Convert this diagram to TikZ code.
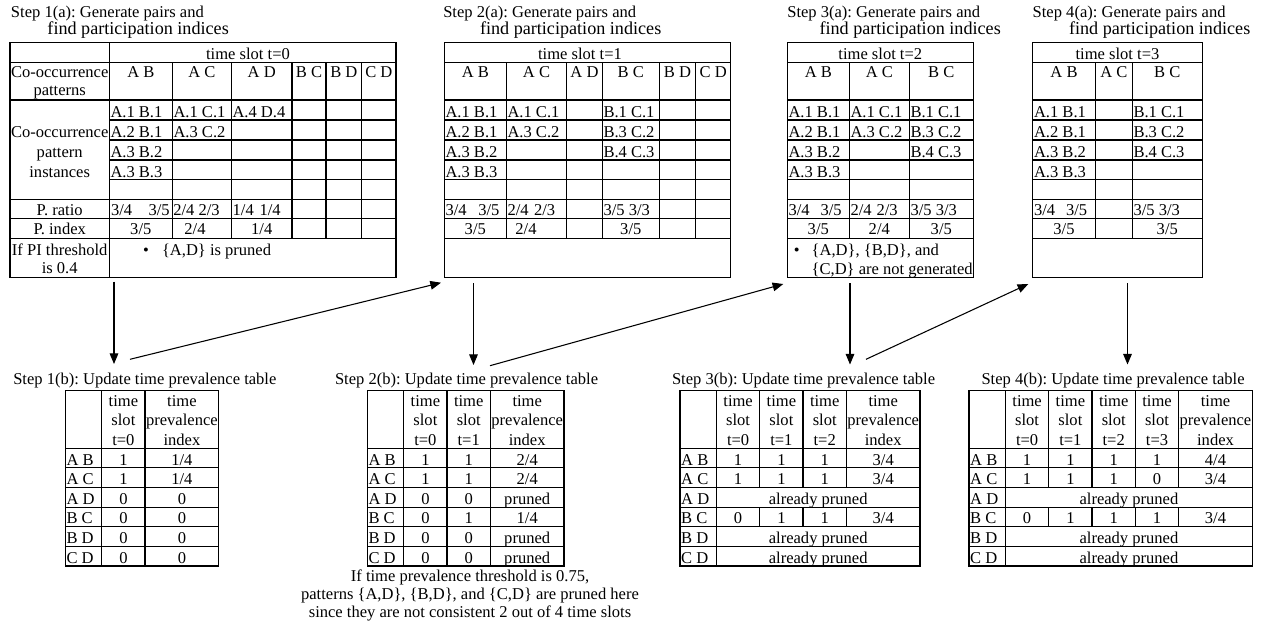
\documentclass[tikz,border=0pt]{standalone}
\usepackage{fontspec}
\setmainfont{Liberation Serif}
\usetikzlibrary{arrows.meta}
\tikzset{
  rule/.style={line width=0.8pt},
  tx/.style={anchor=base, inner sep=0pt, outer sep=0pt, font=\fontsize{12.4}{14.5}\selectfont\frenchspacing},
  txl/.style={tx, anchor=base west},
  sub/.style={txl, font=\fontsize{13.6}{15}\selectfont\frenchspacing},
  flow/.style={line width=0.8pt, -{Triangle[length=8pt,width=6.5pt]}},
}
% three-line column heads of the prevalence tables
\newcommand\slothead[3]{%
  \node[tx] (#1a) at (#2,406.5) {time};
  \node[tx] (#1b) at (#2,425.8) {slot};
  \node[tx] (#1c) at (#2,445) {#3};}
\newcommand\indexhead[2]{%
  \node[tx] (#1a) at (#2,406.5) {time};
  \node[tx] (#1b) at (#2,425.8) {prevalence};
  \node[tx] (#1c) at (#2,445) {index};}
\begin{document}
\begin{tikzpicture}[x=0.75pt,y=-0.75pt]
\useasboundingbox (0,0) rectangle (1261,625);

% ===================== Step 1(a) =====================
\node[txl] (s1a) at (11,17.3) {Step 1(a): Generate pairs and};
\node[sub] (s1a2) at (47.5,34.5) {find participation indices};
\draw[rule] (10,42.7) rectangle (396,277.5);
\foreach \y in {62.7,100,199.3,218.8,238.7} \draw[rule] (10,\y) -- (396,\y);
\foreach \y in {120,140,160,179.6} \draw[rule] (109.3,\y) -- (396,\y);
\draw[rule] (109.3,42.7) -- (109.3,277.5);
\foreach \x in {172.3,231.3,292,326,361.7} \draw[rule] (\x,62.7) -- (\x,238.7);
\node[tx] (t1slot) at (248,59) {time slot t=0};
\node[tx] (t1p1) at (59.7,77.5) {Co-occurrence};
\node[tx] (t1p2) at (59.7,95.5) {patterns};
\foreach \x/\t [count=\i] in {140.8/A B,201.8/A C,261.7/A D,309/B C,343.8/B D,378.8/C D}
  \node[tx] (t1h\i) at (\x,77.5) {\t};
\node[tx] (t1i1) at (59.7,137) {Co-occurrence};
\node[tx] (t1i2) at (59.7,157) {pattern};
\node[tx] (t1i3) at (59.7,177) {instances};
\foreach \t [count=\i] in {A.1 B.1,A.2 B.1,A.3 B.2,A.3 B.3}
  \node[txl] (t1ab\i) at (110.5,97+20*\i) {\t};
\foreach \t [count=\i] in {A.1 C.1,A.3 C.2}
  \node[txl] (t1ac\i) at (173.5,97+20*\i) {\t};
\node[txl] (t1ad1) at (232.5,117) {A.4 D.4};
\node[tx] (t1ratio) at (59.7,215) {P. ratio};
\foreach \x [count=\i] in {111,148.5,173.3,198.5,232.7,259.5}
  \node[txl] (t1r\i) at (\x,215) {\ifcase\i\or 3/4\or 3/5\or 2/4\or 2/3\or 1/4\or 1/4\fi};
\node[tx] (t1index) at (59.7,234.8) {P. index};
\node[tx] (t1x1) at (140.8,234.8) {3/5};
\node[tx] (t1x2) at (195,234.8) {2/4};
\node[tx] (t1x3) at (261.7,234.8) {1/4};
\node[tx] (t1th1) at (59.7,255.5) {If PI threshold};
\node[tx] (t1th2) at (59.7,273.5) {is 0.4};
\node[tx] (t1bul) at (146,255.5) {\textbullet};
\node[txl] (t1note) at (162,255.5) {\{A,D\} is pruned};

% ===================== Step 2(a) =====================
\node[txl] (s2a) at (443.3,17.3) {Step 2(a): Generate pairs and};
\node[sub] (s2a2) at (480,34.5) {find participation indices};
\draw[rule] (444.3,42.7) rectangle (730.7,277.5);
\foreach \y in {62.7,100,120,140,160,179.6,199.3,218.8,238.7} \draw[rule] (444.3,\y) -- (730.7,\y);
\foreach \x in {506.3,566.7,602.3,659.3,695.7} \draw[rule] (\x,62.7) -- (\x,238.7);
\node[tx] (t2slot) at (580,59) {time slot t=1};
\foreach \x/\t [count=\i] in {475.3/A B,536.5/A C,584.5/A D,630.8/B C,677.5/B D,713.2/C D}
  \node[tx] (t2h\i) at (\x,77.5) {\t};
\foreach \t [count=\i] in {A.1 B.1,A.2 B.1,A.3 B.2,A.3 B.3}
  \node[txl] (t2ab\i) at (445.5,97+20*\i) {\t};
\foreach \t [count=\i] in {A.1 C.1,A.3 C.2}
  \node[txl] (t2ac\i) at (507.5,97+20*\i) {\t};
\foreach \t [count=\i] in {B.1 C.1,B.3 C.2,B.4 C.3}
  \node[txl] (t2bc\i) at (603.5,97+20*\i) {\t};
\node[txl] (t2r1) at (445.5,215) {3/4};
\node[txl] (t2r2) at (478.3,215) {3/5};
\node[txl] (t2r3) at (507.5,215) {2/4};
\node[txl] (t2r4) at (534,215) {2/3};
\node[txl] (t2r5) at (603.5,215) {3/5 3/3};
\node[tx] (t2x1) at (475.3,234.8) {3/5};
\node[tx] (t2x2) at (526,234.8) {2/4};
\node[tx] (t2x3) at (630.8,234.8) {3/5};

% ===================== Step 3(a) =====================
\node[txl] (s3a) at (787.3,17.3) {Step 3(a): Generate pairs and};
\node[sub] (s3a2) at (819.5,34.5) {find participation indices};
\draw[rule] (787.3,42.7) rectangle (973.3,277.5);
\foreach \y in {62.7,100,120,140,160,179.6,199.3,218.8,238.7} \draw[rule] (787.3,\y) -- (973.3,\y);
\foreach \x in {849.3,909.3} \draw[rule] (\x,62.7) -- (\x,238.7);
\node[tx] (t3slot) at (880.3,59) {time slot t=2};
\foreach \x/\t [count=\i] in {818.3/A B,879.3/A C,941.3/B C}
  \node[tx] (t3h\i) at (\x,77.5) {\t};
\foreach \t [count=\i] in {A.1 B.1,A.2 B.1,A.3 B.2,A.3 B.3}
  \node[txl] (t3ab\i) at (788.5,97+20*\i) {\t};
\foreach \t [count=\i] in {A.1 C.1,A.3 C.2}
  \node[txl] (t3ac\i) at (850.5,97+20*\i) {\t};
\foreach \t [count=\i] in {B.1 C.1,B.3 C.2,B.4 C.3}
  \node[txl] (t3bc\i) at (910.5,97+20*\i) {\t};
\node[txl] (t3r1) at (788.5,215) {3/4};
\node[txl] (t3r2) at (820.6,215) {3/5};
\node[txl] (t3r3) at (850.5,215) {2/4};
\node[txl] (t3r4) at (876.5,215) {2/3};
\node[txl] (t3r5) at (910.5,215) {3/5 3/3};
\node[tx] (t3x1) at (818.3,234.8) {3/5};
\node[tx] (t3x2) at (879.3,234.8) {2/4};
\node[tx] (t3x3) at (941.3,234.8) {3/5};
\node[tx] (t3bul) at (796.7,255.5) {\textbullet};
\node[txl] (t3n1) at (811.7,255.5) {\{A,D\}, \{B,D\}, and};
\node[txl] (t3n2) at (811.7,274) {\{C,D\} are not generated};

% ===================== Step 4(a) =====================
\node[txl] (s4a) at (1032.7,17.3) {Step 4(a): Generate pairs and};
\node[sub] (s4a2) at (1069,34.5) {find participation indices};
\draw[rule] (1032.7,42.7) rectangle (1202.3,277.5);
\foreach \y in {62.7,100,120,140,160,179.6,199.3,218.8,238.7} \draw[rule] (1032.7,\y) -- (1202.3,\y);
\foreach \x in {1095.3,1132.3} \draw[rule] (\x,62.7) -- (\x,238.7);
\node[tx] (t4slot) at (1117.5,59) {time slot t=3};
\foreach \x/\t [count=\i] in {1064/A B,1113.8/A C,1167.3/B C}
  \node[tx] (t4h\i) at (\x,77.5) {\t};
\foreach \t [count=\i] in {A.1 B.1,A.2 B.1,A.3 B.2,A.3 B.3}
  \node[txl] (t4ab\i) at (1034,97+20*\i) {\t};
\foreach \t [count=\i] in {B.1 C.1,B.3 C.2,B.4 C.3}
  \node[txl] (t4bc\i) at (1133.5,97+20*\i) {\t};
\node[txl] (t4r1) at (1034,215) {3/4};
\node[txl] (t4r2) at (1066,215) {3/5};
\node[txl] (t4r3) at (1133.5,215) {3/5 3/3};
\node[tx] (t4x1) at (1064,234.8) {3/5};
\node[tx] (t4x2) at (1167.3,234.8) {3/5};

% ===================== Step 1(b) =====================
\node[txl] (s1b) at (13.3,384.5) {Step 1(b): Update time prevalence table};
\draw[rule] (65.3,390.7) rectangle (218.7,566);
\foreach \y in {448.3,467.9,487.5,507.1,526.7,546.3} \draw[rule] (65.3,\y) -- (218.7,\y);
\foreach \x in {101.7,145} \draw[rule] (\x,390.7) -- (\x,566);
\slothead{b1s}{123.4}{t=0}
\indexhead{b1i}{181.9}
\foreach \t [count=\i] in {A B,A C,A D,B C,B D,C D}
  \node[txl] (b1l\i) at (66.5,445.5+19.6*\i) {\t};
\foreach \a/\b [count=\i] in {1/1\slash 4,1/1\slash 4,0/0,0/0,0/0,0/0}{
  \node[tx] (b1s\i) at (123.4,445.5+19.6*\i) {\a};
  \node[tx] (b1p\i) at (181.9,445.5+19.6*\i) {\b};}

% ===================== Step 2(b) =====================
\node[txl] (s2b) at (335,384.5) {Step 2(b): Update time prevalence table};
\draw[rule] (367.3,390.7) rectangle (564,566);
\foreach \y in {448.3,467.9,487.5,507.1,526.7,546.3} \draw[rule] (367.3,\y) -- (564,\y);
\foreach \x in {403.7,447,490.3} \draw[rule] (\x,390.7) -- (\x,566);
\slothead{b2s}{425.4}{t=0}
\slothead{b2t}{468.7}{t=1}
\indexhead{b2i}{527.2}
\foreach \t [count=\i] in {A B,A C,A D,B C,B D,C D}
  \node[txl] (b2l\i) at (368.5,445.5+19.6*\i) {\t};
\foreach \a/\b/\c [count=\i] in {1/1/2\slash 4,1/1/2\slash 4,0/0/pruned,0/1/1\slash 4,0/0/pruned,0/0/pruned}{
  \node[tx] (b2s\i) at (425.4,445.5+19.6*\i) {\a};
  \node[tx] (b2t\i) at (468.7,445.5+19.6*\i) {\b};
  \node[tx] (b2p\i) at (527.2,445.5+19.6*\i) {\c};}
\node[tx] (n1) at (470,581.5) {If time prevalence threshold is 0.75,};
\node[tx] (n2) at (470,599.5) {patterns \{A,D\}, \{B,D\}, and \{C,D\} are pruned here};
\node[tx] (n3) at (470,617.5) {since they are not consistent 2 out of 4 time slots};

% ===================== Step 3(b) =====================
\node[txl] (s3b) at (672,384.5) {Step 3(b): Update time prevalence table};
\draw[rule] (680,390.7) rectangle (920,566);
\foreach \y in {448.3,467.9,487.5,507.1,526.7,546.3} \draw[rule] (680,\y) -- (920,\y);
\draw[rule] (716.4,390.7) -- (716.4,566);
\foreach \x in {759.7,803,846.3} {
  \draw[rule] (\x,390.7) -- (\x,487.5);
  \draw[rule] (\x,507.1) -- (\x,526.7);}
\slothead{b3s}{738.1}{t=0}
\slothead{b3t}{781.4}{t=1}
\slothead{b3u}{824.7}{t=2}
\indexhead{b3i}{883.2}
\foreach \t [count=\i] in {A B,A C,A D,B C,B D,C D}
  \node[txl] (b3l\i) at (681.2,445.5+19.6*\i) {\t};
\foreach \r/\a/\b/\c/\d in {1/1/1/1/3\slash 4,2/1/1/1/3\slash 4,4/0/1/1/3\slash 4}{
  \node[tx] (b3s\r) at (738.1,445.5+19.6*\r) {\a};
  \node[tx] (b3t\r) at (781.4,445.5+19.6*\r) {\b};
  \node[tx] (b3u\r) at (824.7,445.5+19.6*\r) {\c};
  \node[tx] (b3p\r) at (883.2,445.5+19.6*\r) {\d};}
\foreach \r in {3,5,6}
  \node[tx] (b3x\r) at (818.2,445.5+19.6*\r) {already pruned};

% ===================== Step 4(b) =====================
\node[txl] (s4b) at (981.5,384.5) {Step 4(b): Update time prevalence table};
\draw[rule] (969,390.7) rectangle (1252.3,566);
\foreach \y in {448.3,467.9,487.5,507.1,526.7,546.3} \draw[rule] (969,\y) -- (1252.3,\y);
\draw[rule] (1005.4,390.7) -- (1005.4,566);
\foreach \x in {1048.7,1092,1135.3,1178.6} {
  \draw[rule] (\x,390.7) -- (\x,487.5);
  \draw[rule] (\x,507.1) -- (\x,526.7);}
\slothead{b4s}{1027.1}{t=0}
\slothead{b4t}{1070.4}{t=1}
\slothead{b4u}{1113.7}{t=2}
\slothead{b4v}{1157}{t=3}
\indexhead{b4i}{1215.5}
\foreach \t [count=\i] in {A B,A C,A D,B C,B D,C D}
  \node[txl] (b4l\i) at (970.2,445.5+19.6*\i) {\t};
\foreach \r/\a/\b/\c/\d/\e in {1/1/1/1/1/4\slash 4,2/1/1/1/0/3\slash 4,4/0/1/1/1/3\slash 4}{
  \node[tx] (b4s\r) at (1027.1,445.5+19.6*\r) {\a};
  \node[tx] (b4t\r) at (1070.4,445.5+19.6*\r) {\b};
  \node[tx] (b4u\r) at (1113.7,445.5+19.6*\r) {\c};
  \node[tx] (b4v\r) at (1157,445.5+19.6*\r) {\d};
  \node[tx] (b4p\r) at (1215.5,445.5+19.6*\r) {\e};}
\foreach \r in {3,5,6}
  \node[tx] (b4x\r) at (1128.9,445.5+19.6*\r) {already pruned};

% ===================== flow arrows =====================
\coordinate (d1a) at (114,281.7);   \coordinate (d1b) at (114,364);
\coordinate (u1a) at (130,359.3);   \coordinate (u1b) at (441,282.7);
\coordinate (d2a) at (473.5,283);   \coordinate (d2b) at (473.5,365);
\coordinate (u2a) at (490,365.7);   \coordinate (u2b) at (783.3,284);
\coordinate (d3a) at (850,283);     \coordinate (d3b) at (850,364.5);
\coordinate (u3a) at (866,359.3);   \coordinate (u3b) at (1028.3,284);
\coordinate (d4a) at (1127.5,283);  \coordinate (d4b) at (1127.5,364.5);
\foreach \p in {d1,u1,d2,u2,d3,u3,d4} \draw[flow] (\p a) -- (\p b);
\end{tikzpicture}
\end{document}
